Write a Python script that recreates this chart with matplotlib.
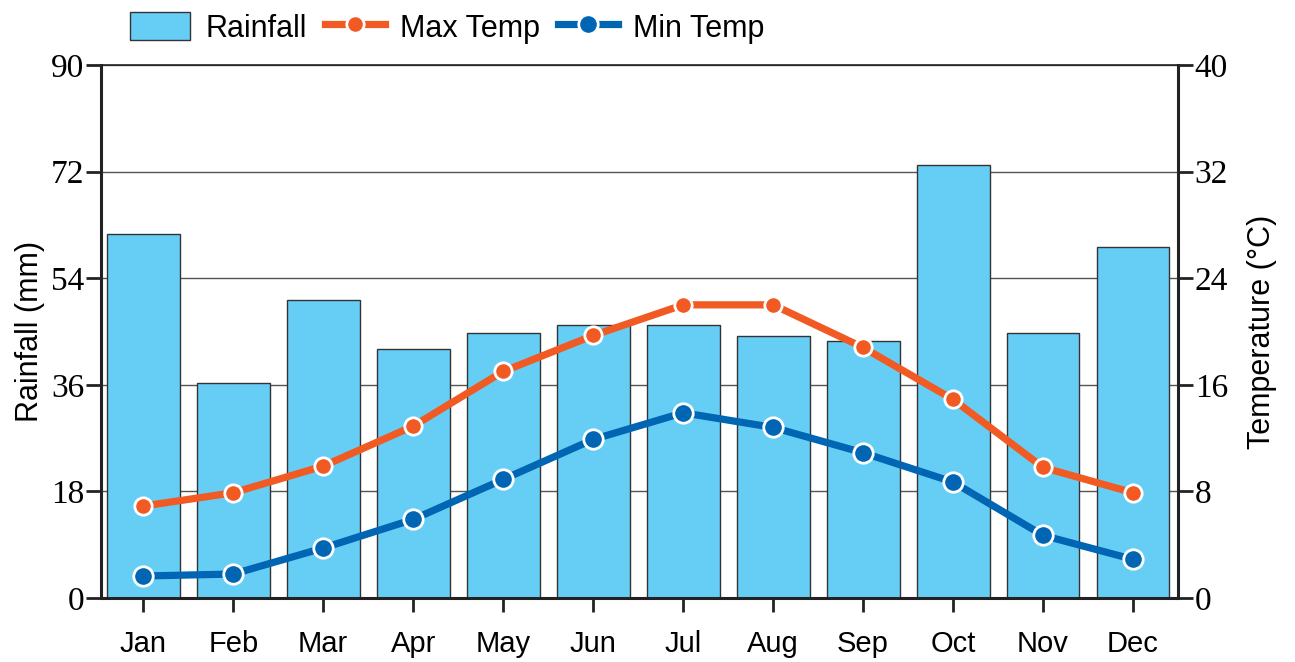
import matplotlib
matplotlib.use("Agg")
import matplotlib.pyplot as plt
import numpy as np

months = ["Jan", "Feb", "Mar", "Apr", "May", "Jun", "Jul", "Aug", "Sep", "Oct", "Nov", "Dec"]
rainfall = [61.5, 36.3, 50.3, 42.0, 44.7, 46.1, 46.1, 44.2, 43.4, 73.1, 44.7, 59.3]
max_temp = [6.9, 7.9, 9.9, 12.9, 17.0, 19.7, 22.0, 22.0, 18.8, 14.9, 9.8, 7.9]
min_temp = [1.65, 1.8, 3.75, 5.9, 8.9, 11.9, 13.9, 12.8, 10.9, 8.7, 4.7, 2.9]
rain_ticks = [0, 18, 36, 54, 72, 90]
temp_ticks = [0, 8, 16, 24, 32, 40]

BAR = "#66CEF5"
ORANGE = "#F15A22"
BLUE = "#0066B3"
serif = "Liberation Serif"
sans = "Liberation Sans"

fig = plt.figure(figsize=(12.95, 6.62), dpi=100)
ax = fig.add_axes([101/1295, 64/662, (1178-101)/1295, (598-65)/662])
x = np.arange(len(months))

ax.set_axisbelow(True)
ax.yaxis.grid(True, color="#555555", linewidth=1.0)
bars = ax.bar(x, rainfall, width=0.81, color=BAR, edgecolor="#333333", linewidth=1.0, label="Rainfall", zorder=2)
ax.set_xlim(-0.47, 11.5)
ax.set_ylim(0, 90)
ax.set_yticks(rain_ticks)
ax.set_yticklabels([str(t) for t in rain_ticks], fontfamily=serif, fontsize=24)
ax.set_xticks(x)
ax.set_xticklabels(months, fontfamily=sans, fontsize=21)
ax.tick_params(axis="y", direction="out", length=11, width=2, pad=1, color="#222222")
ax.tick_params(axis="x", direction="out", length=10, width=2, pad=13, color="#222222")
ax.set_ylabel("Rainfall (mm)", fontfamily=sans, fontsize=22, labelpad=4)
for s in ["left", "bottom"]:
    ax.spines[s].set_linewidth(2.2)
    ax.spines[s].set_color("#222222")
ax.spines["top"].set_linewidth(1.2)
ax.spines["top"].set_color("#222222")
ax.spines["right"].set_visible(False)

ax2 = ax.twinx()
ax2.set_ylim(0, 40)
l1, = ax2.plot(x, max_temp, color=ORANGE, linewidth=5.2, marker="o", markersize=12.5,
               markerfacecolor=ORANGE, markeredgecolor="white", markeredgewidth=2,
               solid_joinstyle="round", label="Max Temp", zorder=3)
l2, = ax2.plot(x, min_temp, color=BLUE, linewidth=5.2, marker="o", markersize=14,
               markerfacecolor=BLUE, markeredgecolor="white", markeredgewidth=2,
               solid_joinstyle="round", label="Min Temp", zorder=3)
ax2.set_yticks(temp_ticks)
ax2.set_yticklabels([str(t) for t in temp_ticks], fontfamily=serif, fontsize=24)
ax2.tick_params(axis="y", direction="out", length=11, width=2, pad=1, color="#222222")
ax2.set_ylabel("Temperature (°C)", fontfamily=sans, fontsize=22, labelpad=14)
for s in ["left", "bottom", "top"]:
    ax2.spines[s].set_visible(False)
ax2.spines["right"].set_linewidth(2.2)
ax2.spines["right"].set_color("#222222")

leg = fig.legend(handles=[bars, l1, l2], labels=["Rainfall", "Max Temp", "Min Temp"],
                 loc="upper left", bbox_to_anchor=(109/1295, 1.014), ncol=3, frameon=False,
                 prop={"family": sans, "size": 22}, handlelength=1.95, handleheight=1.05,
                 columnspacing=0.6, handletextpad=0.5, borderaxespad=0.3)

fig.savefig("out.png", dpi=100)
